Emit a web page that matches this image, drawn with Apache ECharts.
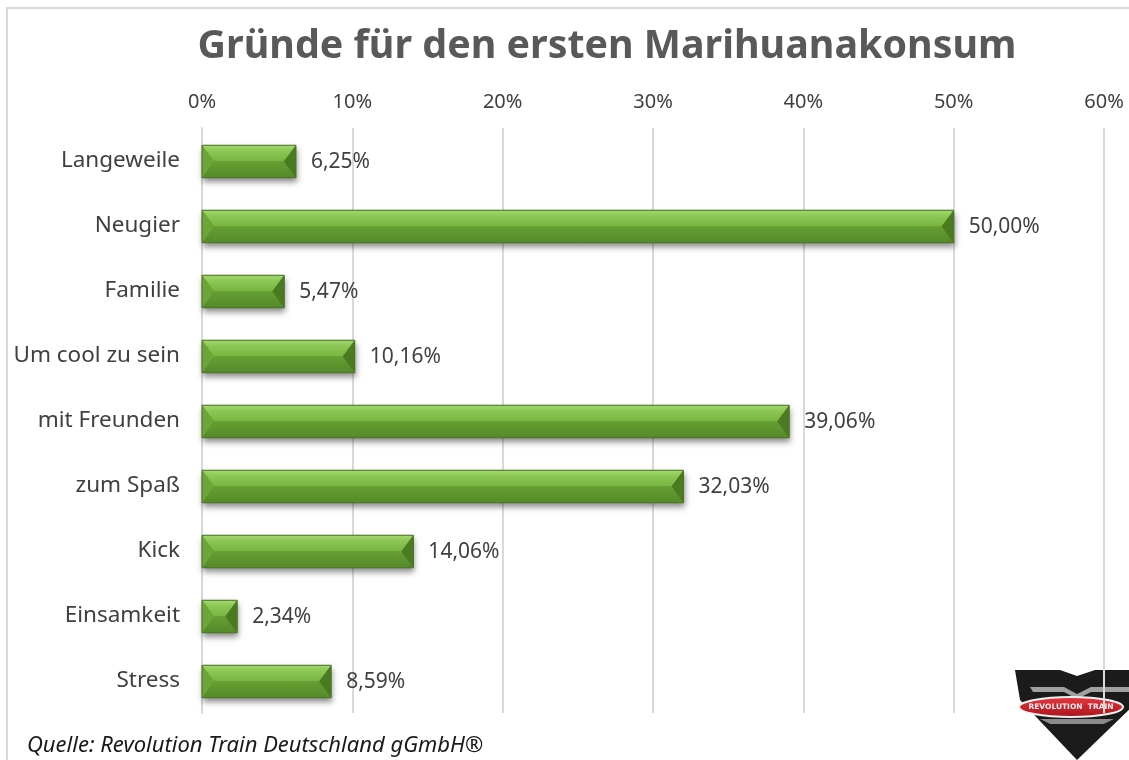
<!DOCTYPE html>
<html>
<head>
<meta charset="utf-8">
<script src="https://cdn.jsdelivr.net/npm/echarts@6/dist/echarts.min.js"></script>
<style>
  html, body { margin: 0; padding: 0; background: #ffffff; }
  #chart { width: 1129px; height: 760px; }
</style>
</head>
<body>
<div id="chart"></div>
<script>
// Gründe für den ersten Marihuanakonsum (Anteile in Prozent)
const categories = ['Langeweile', 'Neugier', 'Familie', 'Um cool zu sein', 'mit Freunden', 'zum Spaß', 'Kick', 'Einsamkeit', 'Stress'];
const shares = [6.25, 50.00, 5.47, 10.16, 39.06, 32.03, 14.06, 2.34, 8.59];
const tickValues = [0, 10, 20, 30, 40, 50, 60];

const chart = echarts.init(document.getElementById('chart'));

const fmt = v => v.toFixed(2).replace('.', ',') + '%';

// bevelled bar: four facets around a split centre line, plus a soft drop shadow
function renderBevelBar(params, api) {
  const v = api.value(0);
  const c = api.value(1);
  const p0 = api.coord([0, c]);
  const p1 = api.coord([v, c]);
  const h = api.size([0, 1])[1] * 0.5;
  const x0 = p0[0], x1 = p1[0], yc = p0[1] + 1;
  const y0 = yc - h / 2, y1 = yc + h / 2;
  const b = Math.min(12, (x1 - x0) / 2);
  const ix0 = x0 + b, ix1 = x1 - b;
  return {
    type: 'group',
    children: [
      { type: 'rect', shape: { x: x0, y: y0, width: x1 - x0, height: h },
        style: { fill: '#5a8f2c', shadowBlur: 6, shadowOffsetX: 1, shadowOffsetY: 4, shadowColor: 'rgba(0,0,0,0.45)' } },
      { type: 'polygon', shape: { points: [[x0, y0], [x1, y0], [ix1, yc], [ix0, yc]] },
        style: { fill: new echarts.graphic.LinearGradient(0, 0, 0, 1, [
          { offset: 0, color: '#a3d86f' }, { offset: 0.35, color: '#8cc755' }, { offset: 1, color: '#78b440' }]) } },
      { type: 'polygon', shape: { points: [[x0, y1], [x1, y1], [ix1, yc], [ix0, yc]] },
        style: { fill: new echarts.graphic.LinearGradient(0, 0, 0, 1, [
          { offset: 0, color: '#669f32' }, { offset: 1, color: '#55892a' }]) } },
      { type: 'polygon', shape: { points: [[x0, y0], [ix0, yc], [x0, y1]] },
        style: { fill: '#6ea537' } },
      { type: 'polygon', shape: { points: [[x1, y0], [ix1, yc], [x1, y1]] },
        style: { fill: '#4a7b20' } },
      { type: 'rect', shape: { x: x0, y: y0, width: x1 - x0, height: h },
        style: { fill: 'none', stroke: '#4a7424', lineWidth: 1 } },
      { type: 'text', x: x1 + 15, y: yc + 1,
        style: { text: fmt(v), fill: '#404040', font: '21px "Noto Sans"', textVerticalAlign: 'middle', textAlign: 'left' } }
    ]
  };
}

chart.setOption({
  animation: false,
  backgroundColor: '#ffffff',
  title: {
    text: 'Gründe für den ersten Marihuanakonsum',
    left: 602, top: 22, textAlign: 'center',
    textStyle: { fontFamily: 'Noto Sans', fontWeight: 'bold', fontSize: 39.4, color: '#595959' }
  },
  grid: { left: 202, right: 25, top: 128, bottom: 47 },
  xAxis: {
    type: 'value', position: 'top', min: 0, max: 60, interval: 10,
    axisLine: { show: false }, axisTick: { show: false },
    splitLine: { lineStyle: { color: '#d9d9d9', width: 2 } },
    axisLabel: {
      margin: 16, color: '#404040', fontFamily: 'Noto Sans', fontSize: 20,
      formatter: v => tickValues.includes(v) ? v + '%' : ''
    }
  },
  yAxis: {
    type: 'category', data: categories, inverse: true,
    axisLine: { show: true, lineStyle: { color: '#d9d9d9', width: 2 } },
    axisTick: { show: false },
    axisLabel: { margin: 22, color: '#404040', fontFamily: 'Noto Sans', fontSize: 22.5, padding: [3, 0, 0, 0] }
  },
  series: [{
    type: 'custom',
    renderItem: renderBevelBar,
    encode: { x: 0, y: 1 },
    data: shares.map((v, i) => [v, i]),
    clip: false
  }],
  graphic: [
    // outer frame
    { type: 'rect', z: -10, shape: { x: 7, y: 8, width: 1135, height: 770 },
      style: { fill: 'none', stroke: '#d9d9d9', lineWidth: 2 } },
    // source line
    { type: 'text', left: 27, top: 735,
      style: { text: 'Quelle: Revolution Train Deutschland gGmbH®', fill: '#1a1a1a',
        font: 'italic 22px "Noto Sans"', shadowBlur: 2, shadowColor: 'rgba(0,0,0,0.35)' } },
    // logo
    { type: 'group', z: 20, children: [
      { type: 'polygon', shape: { points: [[1015, 670], [1060, 670], [1077, 676], [1095, 670], [1135, 670], [1135, 704], [1077, 760], [1020, 700]] },
        style: { fill: '#1b1b1b' } },
      { type: 'polygon', shape: { points: [[1030, 687], [1064, 687], [1077, 694], [1091, 687], [1135, 687], [1135, 692], [1091, 692], [1077, 699], [1064, 692], [1033, 692]] },
        style: { fill: '#a0a0a0' } },
      { type: 'polygon', shape: { points: [[1040, 719], [1114, 719], [1077, 737]] },
        style: { fill: '#8a8a8a' } },
      { type: 'polygon', shape: { points: [[1046, 724], [1108, 724], [1077, 738]] },
        style: { fill: '#1b1b1b' } },
      { type: 'ellipse', shape: { cx: 1071, cy: 707, rx: 52, ry: 10 },
        style: { fill: new echarts.graphic.LinearGradient(0, 0, 0, 1, [
          { offset: 0, color: '#e83a40' }, { offset: 1, color: '#a8121a' }]), stroke: '#f2f2f2', lineWidth: 2 } },
      { type: 'text', x: 1071, y: 707,
        style: { text: 'REVOLUTION  TRAIN', fill: '#eeeeee', font: 'bold 7.5px "DejaVu Sans"', textAlign: 'center', textVerticalAlign: 'middle' } }
    ]}
  ]
});
</script>
</body>
</html>
